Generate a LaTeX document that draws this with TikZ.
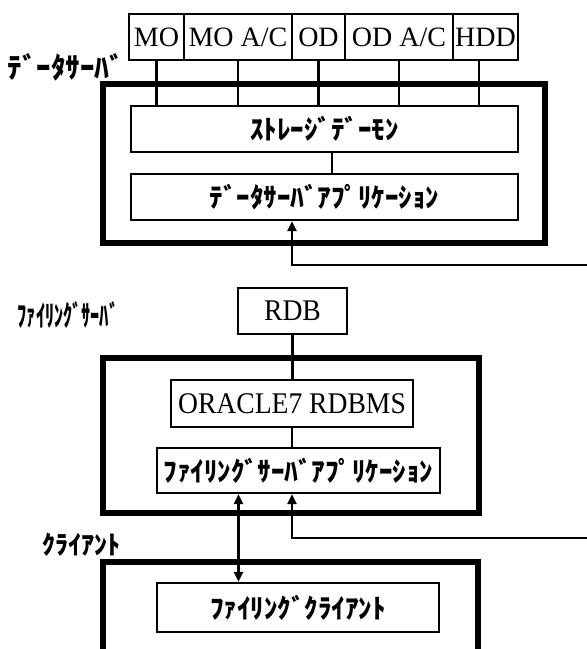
\documentclass[tikz,border=0pt]{standalone}
\usepackage{fontspec}
\setmainfont{Liberation Serif}
\newfontfamily\jpfont{Noto Sans CJK JP}
\usetikzlibrary{arrows.meta, positioning}

\tikzset{
  frame/.style={draw, line width=6pt},
  unit/.style={draw, line width=2.2pt, inner sep=0pt, font=\fontsize{28}{28}\selectfont},
  kana/.style={font=\jpfont\bfseries\fontsize{27}{27}\selectfont},
  link/.style={line width=2.1pt},
  flow/.style={line width=2.7pt, -{Triangle[length=10pt,width=9pt]}},
  duplex/.style={line width=2.7pt, {Triangle[length=10pt,width=9pt]}-{Triangle[length=10pt,width=9pt]}},
}

\begin{document}
\begin{tikzpicture}[x=1pt, y=-1pt]
    \useasboundingbox (0,0) rectangle (587,649);

    % データサーバ
    \node[frame, minimum width=442pt, minimum height=159pt] (dsbox) at (324,163.5) {};
    \node[kana, font=\jpfont\bfseries\fontsize{29}{29}\selectfont] (dslabel) at (66,67) {ﾃﾞｰﾀｻｰﾊﾞ};

    \node[unit, minimum width=55pt, minimum height=46pt] (mo) at (156.5,37) {MO};
    \node[unit, minimum width=108pt, minimum height=46pt] (moac) at (238,37) {MO A/C};
    \node[unit, minimum width=53pt, minimum height=46pt] (od) at (318.5,37) {OD};
    \node[unit, minimum width=108pt, minimum height=46pt] (odac) at (399,37) {OD A/C};
    \node[unit, minimum width=65pt, minimum height=46pt] (hdd) at (485.5,37) {HDD};

    \node[unit, kana, minimum width=387pt, minimum height=46pt] (sd) at (324.5,129) {ｽﾄﾚｰｼﾞﾃﾞｰﾓﾝ};
    \node[unit, kana, minimum width=387pt, minimum height=46pt] (dsapp) at (324.5,197) {ﾃﾞｰﾀｻｰﾊﾞｱﾌﾟﾘｹｰｼｮﾝ};

    \foreach \dev in {mo, moac, od, odac}
        \draw[link] (\dev.south) -- (\dev.south |- sd.north);
    \draw[link] ([xshift=-6.5pt]hdd.south) -- ([xshift=-6.5pt]hdd.south |- sd.north);
    \draw[link] ([xshift=7.5pt]sd.south) -- ([xshift=7.5pt]sd.south |- dsapp.north);

    \coordinate (dsin) at (587,265);
    \draw[flow] (dsin) -| ([xshift=-32.5pt]dsapp.south);

    % ファイリングサーバ
    \node[kana, font=\jpfont\bfseries\fontsize{29}{29}\selectfont, xscale=0.63, transform shape] (fslabel) at (68,315) {ﾌｧｲﾘﾝｸﾞｻｰﾊﾞ};
    \node[unit, font=\fontsize{30}{30}\selectfont, xscale=0.92, transform shape, minimum width=118pt, minimum height=46pt] (rdb) at (292.5,311) {RDB};
    \node[frame, minimum width=376pt, minimum height=155pt] (fsbox) at (291,435.5) {};
    \node[unit, font=\fontsize{30}{30}\selectfont, xscale=0.92, transform shape, minimum width=263pt, minimum height=47pt] (oracle) at (292,403.5) {ORACLE7 RDBMS};
    \node[unit, kana, minimum width=283pt, minimum height=45pt] (fsapp) at (298.5,470.5) {ﾌｧｲﾘﾝｸﾞｻｰﾊﾞｱﾌﾟﾘｹｰｼｮﾝ};

    \draw[link] (rdb.south) -- (rdb.south |- oracle.north);
    \draw[link] (oracle.south) -- (oracle.south |- fsapp.north);

    \coordinate (fsin) at (587,538);
    \draw[flow] (fsin) -| ([xshift=-6.5pt]fsapp.south);

    % クライアント
    \node[kana, font=\jpfont\bfseries\fontsize{26}{26}\selectfont] (cllabel) at (81,545) {ｸﾗｲｱﾝﾄ};
    \draw[frame] (103,649) |- (478,562) -- (478,649);
    \node[unit, kana, minimum width=282pt, minimum height=49pt] (clapp) at (298,607.5) {ﾌｧｲﾘﾝｸﾞｸﾗｲｱﾝﾄ};

    \draw[duplex] ([xshift=-60pt]fsapp.south) -- ([xshift=-60pt]fsapp.south |- clapp.north);
\end{tikzpicture}
\end{document}
